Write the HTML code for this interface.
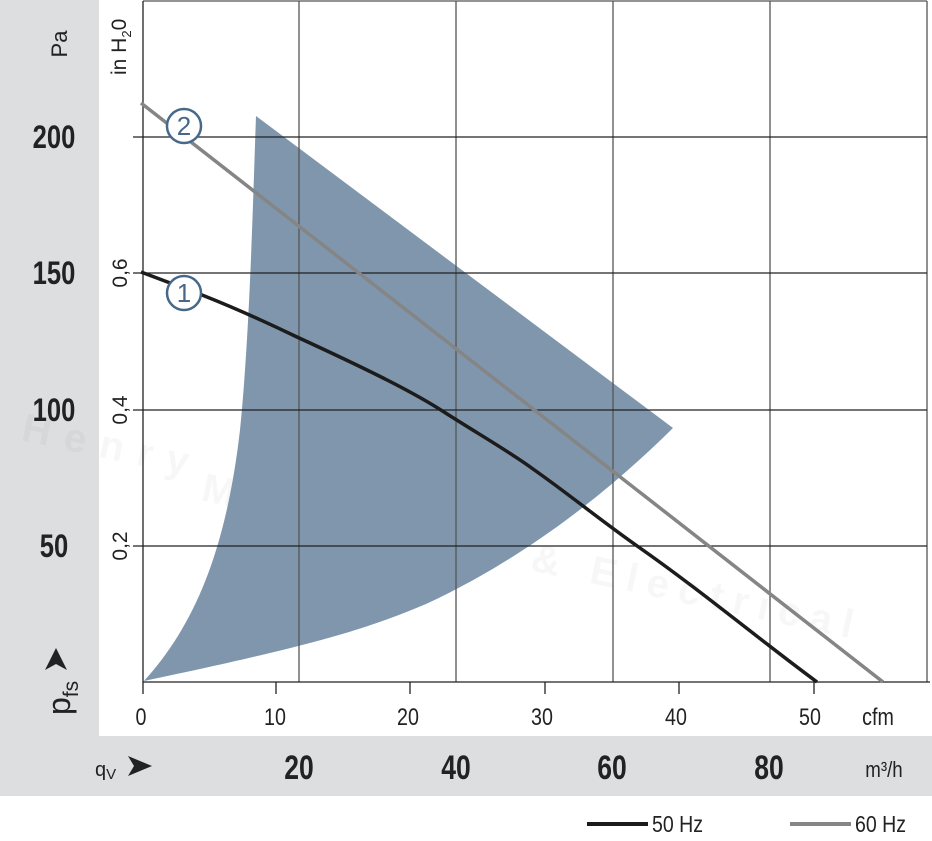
<!DOCTYPE html>
<html><head><meta charset="utf-8"><style>
html,body{margin:0;padding:0;background:#fff;}
svg{display:block;}
text{font-family:"Liberation Sans",sans-serif;}
</style></head><body>
<svg width="932" height="841" viewBox="0 0 932 841" xmlns="http://www.w3.org/2000/svg">
<rect x="0" y="0" width="99" height="796" fill="#dcdee0"/>
<rect x="0" y="736" width="932" height="60" fill="#dcdee0"/>
<g fill="#000" opacity="0.035" font-weight="bold">
<text x="20" y="440" font-size="40" transform="rotate(12 20 440)" letter-spacing="14">Henry</text>
<text x="200" y="500" font-size="40" transform="rotate(12 200 500)" letter-spacing="10">Mechanical &amp; Electrical</text>
</g>
<path d="M144,681 C190,630 225,560 240,430 C250,330 253,200 256,116 L673,428 C600,500 520,560 426,604 C360,632 300,648 144,681 Z" fill="#7f96ac"/>
<g stroke="#555" stroke-width="1.3" fill="none">
<line x1="143" y1="1" x2="927" y2="1"/>
<line x1="927" y1="1" x2="927" y2="682"/>
<line x1="299" y1="1" x2="299" y2="682"/>
<line x1="456" y1="1" x2="456" y2="682"/>
<line x1="613" y1="1" x2="613" y2="682"/>
<line x1="770" y1="1" x2="770" y2="682"/>
</g>
<g stroke="#222" stroke-width="1.3">
<line x1="133" y1="137" x2="927" y2="137"/>
<line x1="133" y1="273" x2="927" y2="273"/>
<line x1="133" y1="410" x2="927" y2="410"/>
<line x1="133" y1="546" x2="927" y2="546"/>
<line x1="143" y1="1" x2="143" y2="694"/>
<line x1="143" y1="682" x2="930" y2="682"/>
<line x1="276" y1="682" x2="276" y2="694"/>
<line x1="410" y1="682" x2="410" y2="694"/>
<line x1="545" y1="682" x2="545" y2="694"/>
<line x1="679" y1="682" x2="679" y2="694"/>
<line x1="814" y1="682" x2="814" y2="694"/>
</g>
<line x1="141" y1="103" x2="883" y2="682" stroke="#858585" stroke-width="3.5"/>
<path d="M141,272 L202,295 C240,310 270,324 297,337 C360,366 410,390 444,412 C480,435 510,452 533,469 C570,495 600,520 640,548 C700,590 760,640 817,682" fill="none" stroke="#1c1c1c" stroke-width="3.5"/>
<g fill="#fff" stroke="#46698a" stroke-width="2.5">
<circle cx="184" cy="126" r="17"/>
<circle cx="184" cy="293" r="17"/>
</g>
<g fill="#46698a" font-size="26" text-anchor="middle">
<text x="184" y="135">2</text>
<text x="184" y="302">1</text>
</g>
<g fill="#222" font-size="32" text-anchor="middle" font-weight="bold">
<text transform="translate(54 148) scale(0.8 1)">200</text>
<text transform="translate(54 284) scale(0.8 1)">150</text>
<text transform="translate(54 421) scale(0.8 1)">100</text>
<text transform="translate(54 557) scale(0.8 1)">50</text>
</g>
<text transform="translate(67 44) rotate(-90)" font-size="22" fill="#222" text-anchor="middle">Pa</text>
<text transform="translate(126 75) rotate(-90)" font-size="21" fill="#222">in H<tspan font-size="13" dy="5">2</tspan><tspan dy="-5">0</tspan></text>
<g fill="#222" font-size="21" text-anchor="middle">
<text transform="translate(127 273) rotate(-90)">0,6</text>
<text transform="translate(127 410) rotate(-90)">0,4</text>
<text transform="translate(127 546) rotate(-90)">0,2</text>
</g>
<path d="M45,670 L56,648 L67,670 L56,664 Z" fill="#222"/>
<text transform="translate(70 715) rotate(-90)" font-size="32" fill="#222">p<tspan font-size="21" dy="8">fs</tspan></text>
<g fill="#222" font-size="24" text-anchor="middle">
<text transform="translate(141 725) scale(0.82 1)">0</text>
<text transform="translate(275 725) scale(0.82 1)">10</text>
<text transform="translate(408 725) scale(0.82 1)">20</text>
<text transform="translate(542 725) scale(0.82 1)">30</text>
<text transform="translate(676 725) scale(0.82 1)">40</text>
<text transform="translate(810 725) scale(0.82 1)">50</text>
<text transform="translate(878 725) scale(0.82 1)">cfm</text>
</g>
<text x="95" y="776" font-size="20" fill="#222">q<tspan font-size="15" dy="3">V</tspan></text>
<path d="M128,756 L152,766 L128,776 L134,766 Z" fill="#222"/>
<g fill="#222" font-size="34" text-anchor="middle" font-weight="bold">
<text transform="translate(299 779) scale(0.78 1)">20</text>
<text transform="translate(456 779) scale(0.78 1)">40</text>
<text transform="translate(612 779) scale(0.78 1)">60</text>
<text transform="translate(769 779) scale(0.78 1)">80</text>
</g>
<text transform="translate(884 777) scale(0.85 1)" font-size="22" fill="#222" text-anchor="middle">m³/h</text>
<line x1="587" y1="824" x2="648" y2="824" stroke="#1c1c1c" stroke-width="4"/>
<text transform="translate(652 832) scale(0.85 1)" font-size="23" fill="#222">50 Hz</text>
<line x1="790" y1="824" x2="851" y2="824" stroke="#858585" stroke-width="4"/>
<text transform="translate(855 832) scale(0.85 1)" font-size="23" fill="#222">60 Hz</text>
</svg>
</body></html>
